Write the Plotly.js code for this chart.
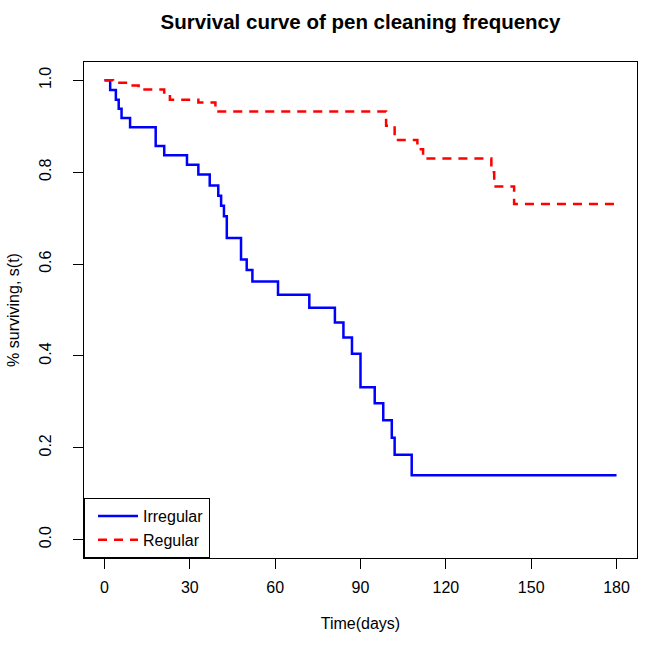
<!DOCTYPE html>
<html>
<head>
<meta charset="utf-8">
<script src="https://cdn.plot.ly/plotly-3.0.1.min.js"></script>
<style>
  html, body { margin: 0; padding: 0; background: #fff; }
  #chart { width: 649px; height: 648px; }
</style>
</head>
<body>
<div id="chart"></div>
<script>
// ---- data ----
const seriesNames = ["Irregular", "Regular"];

const irregularTime = [0, 2, 4, 5, 6, 9, 18, 21, 29, 33, 37, 40, 41, 42, 43, 48, 50, 52, 61, 72, 81, 84, 87, 90, 95, 98, 101, 102, 108, 180];
const irregularSurv = [1.0, 0.979, 0.958, 0.938, 0.918, 0.898, 0.857, 0.837, 0.816, 0.795, 0.771, 0.749, 0.727, 0.704, 0.657, 0.610, 0.587, 0.562, 0.533, 0.505, 0.473, 0.440, 0.405, 0.332, 0.297, 0.260, 0.222, 0.185, 0.140, 0.140];

const regularTime = [0, 3, 8, 12, 21, 23, 33, 39, 99, 102, 110, 112, 136, 137, 144, 180];
const regularSurv = [1.0, 0.995, 0.989, 0.980, 0.970, 0.958, 0.952, 0.932, 0.901, 0.870, 0.850, 0.830, 0.800, 0.769, 0.731, 0.731];

const xTickVals = [0, 30, 60, 90, 120, 150, 180];
const yTickVals = [0.0, 0.2, 0.4, 0.6, 0.8, 1.0];

const chartTitle = "Survival curve of pen cleaning frequency";
const xTitle = "Time(days)";
const yTitle = "% surviving, s(t)";

// ---- chart ----
const FONT = "'Liberation Sans', Arial, Helvetica, sans-serif";

const traces = [
  {
    x: irregularTime, y: irregularSurv, name: seriesNames[0],
    type: "scatter", mode: "lines",
    line: { shape: "hv", color: "#0000FF", width: 2.5 }
  },
  {
    x: regularTime, y: regularSurv, name: seriesNames[1],
    type: "scatter", mode: "lines",
    line: { shape: "hv", color: "#FF0000", width: 2.5, dash: "9px,7px" }
  }
];

const layout = {
  width: 649, height: 648,
  paper_bgcolor: "#ffffff", plot_bgcolor: "#ffffff",
  font: { family: FONT, size: 16, color: "#000000" },
  margin: { l: 84, r: 12, t: 62, b: 90, pad: 0 },
  showlegend: true,
  title: {
    text: "<b>" + chartTitle + "</b>",
    font: { family: FONT, size: 20.5, color: "#000000" },
    x: 0.5, xref: "paper", xanchor: "center",
    y: 1 - 22 / 648, yref: "container", yanchor: "middle"
  },
  xaxis: {
    range: [-7.2, 187.2],
    tickvals: xTickVals,
    ticktext: xTickVals.map(String),
    ticks: "outside", ticklen: 10, tickwidth: 1, tickcolor: "#000",
    ticklabelstandoff: 5,
    showline: true, mirror: true, linecolor: "#000", linewidth: 1,
    showgrid: false, zeroline: false,
    tickfont: { family: FONT, size: 16, color: "#000" },
    title: { text: xTitle, font: { family: FONT, size: 16, color: "#000" }, standoff: 22 }
  },
  yaxis: {
    range: [-0.04, 1.04],
    tickvals: yTickVals,
    ticktext: yTickVals.map(v => v.toFixed(1)),
    tickangle: -90,
    ticks: "outside", ticklen: 10, tickwidth: 1, tickcolor: "#000",
    ticklabelstandoff: 16,
    showline: true, mirror: true, linecolor: "#000", linewidth: 1,
    showgrid: false, zeroline: false,
    tickfont: { family: FONT, size: 16, color: "#000" },
    title: { text: yTitle, font: { family: FONT, size: 16, color: "#000" }, standoff: 12 }
  },
  legend: {
    x: 0, y: 0, xref: "paper", yref: "paper",
    xanchor: "left", yanchor: "bottom",
    bgcolor: "#ffffff", bordercolor: "#000", borderwidth: 1,
    font: { family: FONT, size: 16, color: "#000" },
    traceorder: "normal", tracegroupgap: 0,
    indentation: 8,
    itemwidth: 40
  }
};

Plotly.newPlot("chart", traces, layout, { displayModeBar: false, staticPlot: true });
</script>
</body>
</html>
